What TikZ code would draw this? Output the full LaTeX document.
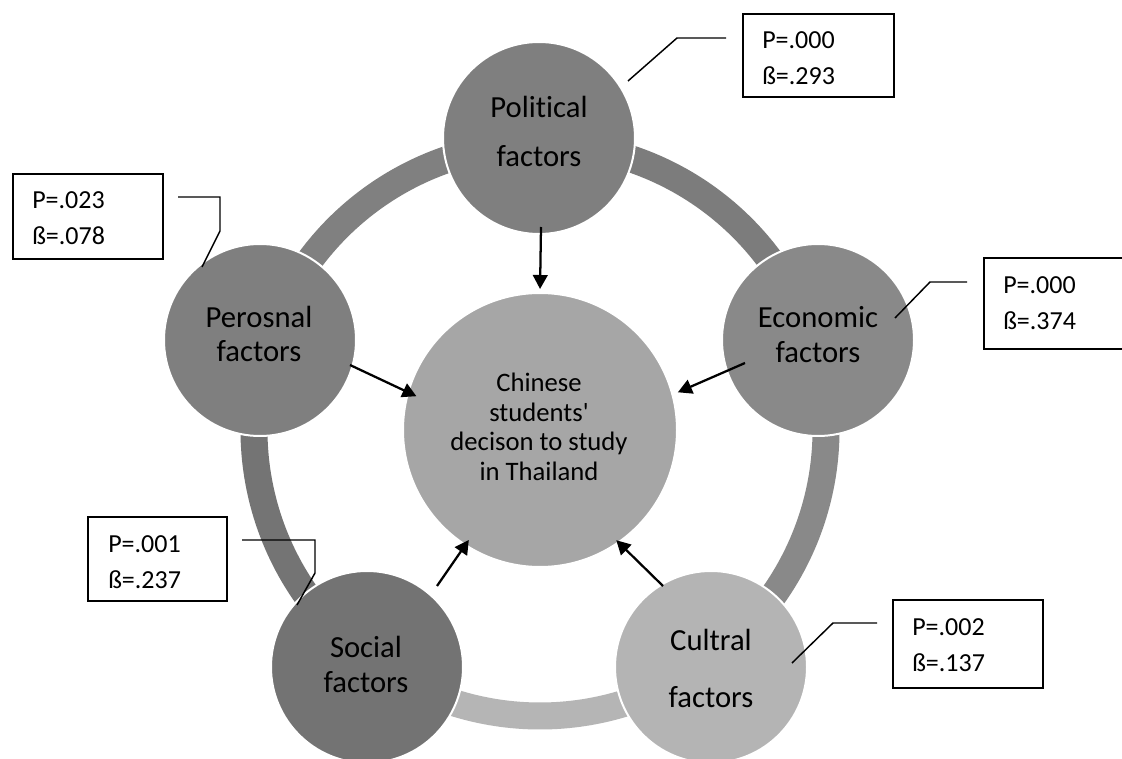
\documentclass[tikz,border=0pt]{standalone}
\usepackage{fontspec}
\setmainfont{Carlito}[Ligatures={TeX,NoCommon}]
\usetikzlibrary{calc,arrows.meta}
\definecolor{cPol}{HTML}{7F7F7F}
\definecolor{cEco}{HTML}{898989}
\definecolor{cCul}{HTML}{B4B4B4}
\definecolor{cSoc}{HTML}{737373}
\definecolor{cPer}{HTML}{7F7F7F}
\definecolor{cCen}{HTML}{A6A6A6}
\definecolor{rPolEco}{HTML}{7C7C7C}
\definecolor{rEcoCul}{HTML}{898989}
\definecolor{rCulSoc}{HTML}{B5B5B5}
\definecolor{rSocPer}{HTML}{747474}
\definecolor{rPerPol}{HTML}{808080}
\begin{document}
\begin{tikzpicture}[x=0.75pt,y=-0.75pt,
  fac/.style={circle, draw=white, line width=1.5pt, minimum size=144pt, inner sep=0pt},
  ftxt/.style={align=center, anchor=base, inner sep=0pt},
  vbox/.style={draw=black, line width=1.2pt, inner sep=0pt, anchor=north west, fill=white},
  btxt/.style={align=left, anchor=base west, inner sep=0pt, font=\fontsize{19.5}{27}\selectfont},
  ringseg/.style={line width=20.25pt},
  arr/.style={-{Triangle[length=10.5pt,width=11pt]}, line width=1.7pt},
  callout/.style={line width=1.1pt}
]
\useasboundingbox (0,0) rectangle (1122,759);
\fill[white] (0,0) rectangle (1122,759);

\coordinate (ctr) at (540,430);
% ring segments
\draw[ringseg, color=rPolEco] (ctr) ++(-90:286) arc[start angle=-90, end angle=-18, radius=286];
\draw[ringseg, color=rEcoCul] (ctr) ++(-18:286) arc[start angle=-18, end angle=54, radius=286];
\draw[ringseg, color=rCulSoc] (ctr) ++(54:286) arc[start angle=54, end angle=126, radius=286];
\draw[ringseg, color=rSocPer] (ctr) ++(126:286) arc[start angle=126, end angle=198, radius=286];
\draw[ringseg, color=rPerPol] (ctr) ++(198:286) arc[start angle=198, end angle=270, radius=286];

% factor circles
\node[fac, fill=cPol] (pol) at (539,138) {};
\node[fac, fill=cEco] (eco) at (818,340) {};
\node[fac, fill=cCul] (cul) at (711,667) {};
\node[fac, fill=cSoc] (soc) at (367,667) {};
\node[fac, fill=cPer] (per) at (260,340) {};
\node[circle, draw=white, line width=1.5pt, fill=cCen, minimum size=205.5pt, inner sep=0pt] (cen) at (ctr) {};

% texts (base anchor = baseline of last line)
\node[ftxt, font=\fontsize{23}{36.75}\selectfont] (polt) at (539,167) {Political\\factors};
\node[ftxt, font=\fontsize{23}{26.25}\selectfont] (ecot) at (818,363) {Economic\\factors};
\node[ftxt, font=\fontsize{23}{25.5}\selectfont] (pert) at (259,362) {Perosnal\\factors};
\node[ftxt, font=\fontsize{23}{26.25}\selectfont] (soct) at (366,692) {Social\\factors};
\node[ftxt, font=\fontsize{23}{42.75}\selectfont] (cult) at (711,707) {Cultral\\factors};
\node[ftxt, font=\fontsize{20}{22.1}\selectfont] (cent) at (539,480) {Chinese\\students\textquotesingle\\decison to study\\in Thailand};

% arrows
\coordinate (apol) at (541,227);
\coordinate (aeco) at (745,363);
\coordinate (aper) at (350,365);
\coordinate (asoc) at (437,586);
\coordinate (acul) at (663,586);
\draw[arr, shorten >=2.25pt] (apol) -- (cen.90);
\draw[arr, shorten >=3.75pt] (aeco) -- (cen.15);
\draw[arr, shorten >=-7.5pt] (aper) -- (cen.164);
\draw[arr, shorten >=-5.25pt] (asoc) -- (cen.237);
\draw[arr, shorten >=-3pt] (acul) -- (cen.305);

% callout lines
\coordinate (cpa) at (628,81);  \coordinate (cpb) at (677,38);  \coordinate (cpc) at (726,38);
\coordinate (cea) at (895,318); \coordinate (ceb) at (930,282); \coordinate (cec) at (967,282);
\coordinate (cca) at (792,663); \coordinate (ccb) at (833,623); \coordinate (ccc) at (877,623);
\coordinate (cra) at (202,267); \coordinate (crb) at (220,231); \coordinate (crc) at (220,197); \coordinate (crd) at (178,197);
\coordinate (csa) at (297,605); \coordinate (csb) at (315,573); \coordinate (csc) at (315,540); \coordinate (csd) at (242,540);
\draw[callout] (cpa) -- (cpb) -- (cpc);
\draw[callout] (cea) -- (ceb) -- (cec);
\draw[callout] (cca) -- (ccb) -- (ccc);
\draw[callout] (cra) -- (crb) -- (crc) -- (crd);
\draw[callout] (csa) -- (csb) -- (csc) -- (csd);

% boxes (text base anchor = baseline of second line)
\node[vbox, minimum width=113.25pt, minimum height=62.25pt] (pb) at (742,13) {};
\node[btxt] (pbt) at (762,85) {P=.000\\ß=.293};
\node[vbox, minimum width=108.75pt, minimum height=68.25pt] (eb) at (983,257) {};
\node[btxt] (ebt) at (1003,330) {P=.000\\ß=.374};
\node[vbox, minimum width=112.5pt, minimum height=66pt] (cb) at (892,599) {};
\node[btxt] (cbt) at (912,671) {P=.002\\ß=.137};
\node[vbox, minimum width=112.5pt, minimum height=63.75pt] (rb) at (12,173) {};
\node[btxt] (rbt) at (32,245) {P=.023\\ß=.078};
\node[vbox, minimum width=104.25pt, minimum height=63pt] (sb) at (87,516) {};
\node[btxt] (sbt) at (108,588) {P=.001\\ß=.237};
\end{tikzpicture}
\end{document}
